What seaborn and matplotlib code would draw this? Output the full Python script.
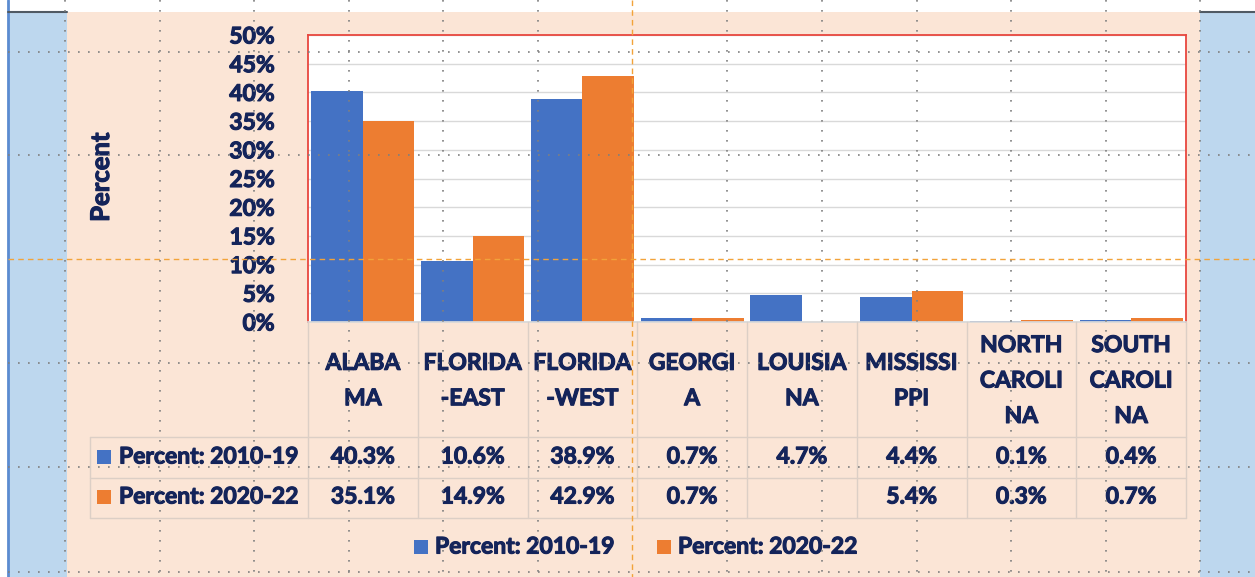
import numpy as np
import pandas as pd
import seaborn as sns
import matplotlib.pyplot as plt
import matplotlib.patheffects as pe
from matplotlib.lines import Line2D
from matplotlib.patches import Rectangle
from matplotlib.transforms import Affine2D, blended_transform_factory

# chart data
states = ['ALABAMA', 'FLORIDA-EAST', 'FLORIDA-WEST', 'GEORGIA', 'LOUISIANA',
          'MISSISSIPPI', 'NORTH CAROLINA', 'SOUTH CAROLINA']
header_labels = ['ALABA\nMA', 'FLORIDA\n-EAST', 'FLORIDA\n-WEST', 'GEORGI\nA',
                 'LOUISIA\nNA', 'MISSISSI\nPPI', 'NORTH\nCAROLI\nNA', 'SOUTH\nCAROLI\nNA']
series_names = ['Percent: 2010-19', 'Percent: 2020-22']
pct_2010_19 = [40.3, 10.6, 38.9, 0.7, 4.7, 4.4, 0.1, 0.4]
pct_2020_22 = [35.1, 14.9, 42.9, 0.7, np.nan, 5.4, 0.3, 0.7]
y_ticks = [0, 5, 10, 15, 20, 25, 30, 35, 40, 45, 50]

df = pd.DataFrame({
    'state': states * 2,
    'value': pct_2010_19 + pct_2020_22,
    'period': [series_names[0]] * len(states) + [series_names[1]] * len(states),
})

blue, orange = '#4472C4', '#ED7D31'
peach, sky = '#FBE5D6', '#BDD7EE'
navy = '#14245A'
W, H = 1255, 577

sns.set_theme(style='white')
plt.rcParams['font.family'] = ['Lato', 'DejaVu Sans']
fs = 16.5
fw = 'bold'
# slightly heavier strokes, the original font is a very bold one
thick = [pe.withStroke(linewidth=0.8, foreground=navy)]

fig = plt.figure(figsize=(W / 100, H / 100), dpi=100, facecolor=peach)
# pixel transform, origin top-left
pix = Affine2D().scale(1 / W, -1 / H).translate(0, 1) + fig.transFigure

# window decoration
for x0, y0, w, h, c in [(0, 0, W, 12, 'white'), (0, 0, 8, H, 'white'),
                        (8, 12, 59, H - 12, sky), (1200, 12, 55, H - 12, sky)]:
    fig.add_artist(Rectangle((x0, y0), w, h, transform=pix, color=c, lw=0, zorder=-5))
fig.add_artist(Line2D([8, 8], [0, H], transform=pix, color='#5B8BD0', lw=2, zorder=-4))
fig.add_artist(Line2D([8, 67], [12, 12], transform=pix, color='#505A64', lw=1.5, zorder=-4))
fig.add_artist(Line2D([1200, W], [12, 12], transform=pix, color='#505A64', lw=1.5, zorder=-4))

ax = fig.add_axes([308 / W, 1 - 322 / H, (1186 - 308) / W, (322 - 35) / H])
ax.set_facecolor('white')
sns.barplot(data=df, x='state', y='value', hue='period', order=states,
            hue_order=series_names, palette=[blue, orange], width=0.94,
            saturation=1, errorbar=None, linewidth=0, legend=False, ax=ax)
ax.set_ylim(0, 50)
ax.set_yticks(y_ticks)
ax.set_yticklabels([f'{v}%' for v in y_ticks], fontsize=fs, fontweight=fw, color=navy,
                   path_effects=thick)
ax.tick_params(axis='y', length=0, pad=24)
ax.set_xticks([])
ax.set_xlabel('')
ax.set_ylabel('')
ax.yaxis.grid(True, color='#D9D9D9', lw=1)
ax.set_axisbelow(True)
for s in ['left', 'top', 'right']:
    ax.spines[s].set_color('#E8473F')
    ax.spines[s].set_linewidth(1.3)
ax.spines['bottom'].set_color('#D9D9D9')

fig.text(101 / W, 1 - 177 / H, 'Percent', rotation=90, ha='center', va='center',
         fontsize=18.5, fontweight=fw, color=navy, path_effects=thick)

# data table under the plot
tx = blended_transform_factory(ax.transData, pix)
grid_c = '#DCCFC6'
n = len(states)
for i in range(n + 1):
    fig.add_artist(Line2D([i - 0.5, i - 0.5], [322, 518], transform=tx, color=grid_c, lw=1))
fig.add_artist(Line2D([90, 90], [437, 518], transform=pix, color=grid_c, lw=1))
for yy in [437, 478, 518]:
    fig.add_artist(Line2D([90, 1186], [yy, yy], transform=pix, color=grid_c, lw=1))

for i, lab in enumerate(header_labels):
    fig.text(i, 381, lab, transform=tx, ha='center', va='center', fontsize=fs,
             fontweight=fw, color=navy, linespacing=1.85, path_effects=thick)

for row_y, vals in [(457, pct_2010_19), (497, pct_2020_22)]:
    for i, v in enumerate(vals):
        if not np.isnan(v):
            fig.text(i, row_y, f'{v:.1f}%', transform=tx, ha='center', va='center',
                     fontsize=fs, fontweight=fw, color=navy, path_effects=thick)

for row_y, name, c in [(457, series_names[0], blue), (497, series_names[1], orange)]:
    fig.add_artist(Rectangle((97, row_y - 7), 14, 14, transform=pix, color=c, lw=0))
    fig.text(119, row_y, name, transform=pix, ha='left', va='center', fontsize=fs,
             fontweight=fw, color=navy, path_effects=thick)

# legend
for lx, name, c in [(414, series_names[0], blue), (657, series_names[1], orange)]:
    fig.add_artist(Rectangle((lx, 540), 14, 14, transform=pix, color=c, lw=0))
    fig.text(lx + 21, 547, name, transform=pix, ha='left', va='center', fontsize=fs,
             fontweight=fw, color=navy, path_effects=thick)

# worksheet page guides
dot = dict(transform=pix, color='#7F7F7F', lw=1.2, ls=(0, (1, 5)), zorder=10)
for yy in [52, 155, 363, 467, 572]:
    fig.add_artist(Line2D([8, W], [yy, yy], **dot))
for xx in [65, 160, 254, 349, 443, 538, 727, 822, 917, 1011, 1106, 1200]:
    fig.add_artist(Line2D([xx, xx], [0, H], **dot))
dash = dict(transform=pix, color='#F2A33A', lw=1, ls=(0, (4, 3)), zorder=10)
fig.add_artist(Line2D([632, 632], [0, H], **dash))
fig.add_artist(Line2D([8, W], [259, 259], **dash))

fig.savefig('out.png', dpi=100, facecolor=peach)
